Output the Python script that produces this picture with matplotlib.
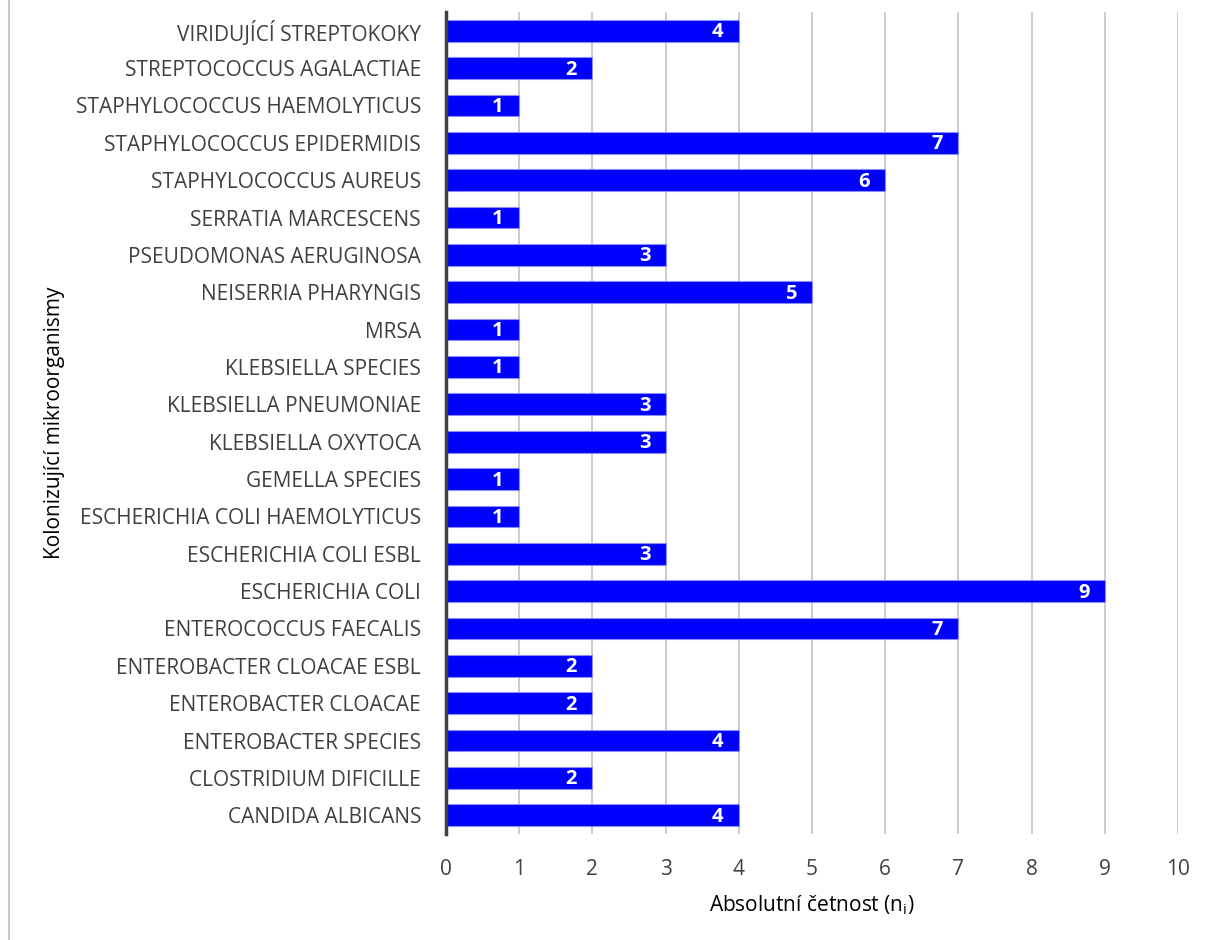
import matplotlib.pyplot as plt
from matplotlib.lines import Line2D

CATEGORIES = [
    'CANDIDA ALBICANS',
    'CLOSTRIDIUM DIFICILLE',
    'ENTEROBACTER SPECIES',
    'ENTEROBACTER CLOACAE',
    'ENTEROBACTER CLOACAE ESBL',
    'ENTEROCOCCUS FAECALIS',
    'ESCHERICHIA COLI',
    'ESCHERICHIA COLI ESBL',
    'ESCHERICHIA COLI HAEMOLYTICUS',
    'GEMELLA SPECIES',
    'KLEBSIELLA OXYTOCA',
    'KLEBSIELLA PNEUMONIAE',
    'KLEBSIELLA SPECIES',
    'MRSA',
    'NEISERRIA PHARYNGIS',
    'PSEUDOMONAS AERUGINOSA',
    'SERRATIA MARCESCENS',
    'STAPHYLOCOCCUS AUREUS',
    'STAPHYLOCOCCUS EPIDERMIDIS',
    'STAPHYLOCOCCUS HAEMOLYTICUS',
    'STREPTOCOCCUS AGALACTIAE',
    'VIRIDUJÍCÍ STREPTOKOKY',
]
COUNTS = [4, 2, 4, 2, 2, 7, 9, 3, 1, 1, 3, 3, 1, 1, 5, 3, 1, 6, 7, 1, 2, 4]
X_TICKS = list(range(0, 11))

TEXT = '#404040'

plt.rcParams['font.family'] = ['Open Sans', 'DejaVu Sans']

fig = plt.figure(figsize=(12.08, 9.4), dpi=100)
ax = fig.add_axes([446 / 1208, 1 - 834 / 940, 732 / 1208, 822 / 940])

y = list(range(len(CATEGORIES)))
ax.barh(y, COUNTS, height=0.58, color='#0000FF', edgecolor='#8C8CFF',
        linewidth=0.8, zorder=3)

# value labels inside the bar ends
for yi, v in zip(y, COUNTS):
    ax.text(v - 0.21, yi - 0.04, str(v), ha='right', va='center',
            color='white', fontsize=14.5, fontweight='bold', zorder=4)

ax.set_xlim(0, 10)
ax.set_ylim(-0.5, len(CATEGORIES) - 0.5)
ax.set_xticks(X_TICKS)
ax.set_yticks(y)
ax.set_yticklabels(CATEGORIES)
ax.tick_params(axis='y', length=0, pad=18, labelsize=15, labelcolor=TEXT)
ax.tick_params(axis='x', length=0, pad=18, labelsize=15, labelcolor=TEXT)
ax.grid(axis='x', color='#C8C8C8', linewidth=1.3, zorder=0)

for s in ['top', 'right', 'bottom']:
    ax.spines[s].set_visible(False)
ax.spines['left'].set_color('#404040')
ax.spines['left'].set_linewidth(2.5)
ax.spines['left'].set_zorder(5)

ax.set_xlabel('Absolutní četnost (n$_\\mathregular{i}$)', fontsize=15,
              color='black')
ax.xaxis.set_label_coords(0.5, -0.072)
ax.set_ylabel('Kolonizující mikroorganismy', fontsize=15, color='black')
ax.yaxis.set_label_coords(-0.52, 0.5)

fig.add_artist(Line2D([8.5 / 1208, 8.5 / 1208], [0, 1], color='#C8C8C8',
                      linewidth=1.5, transform=fig.transFigure))

fig.savefig('out.png', dpi=100)
